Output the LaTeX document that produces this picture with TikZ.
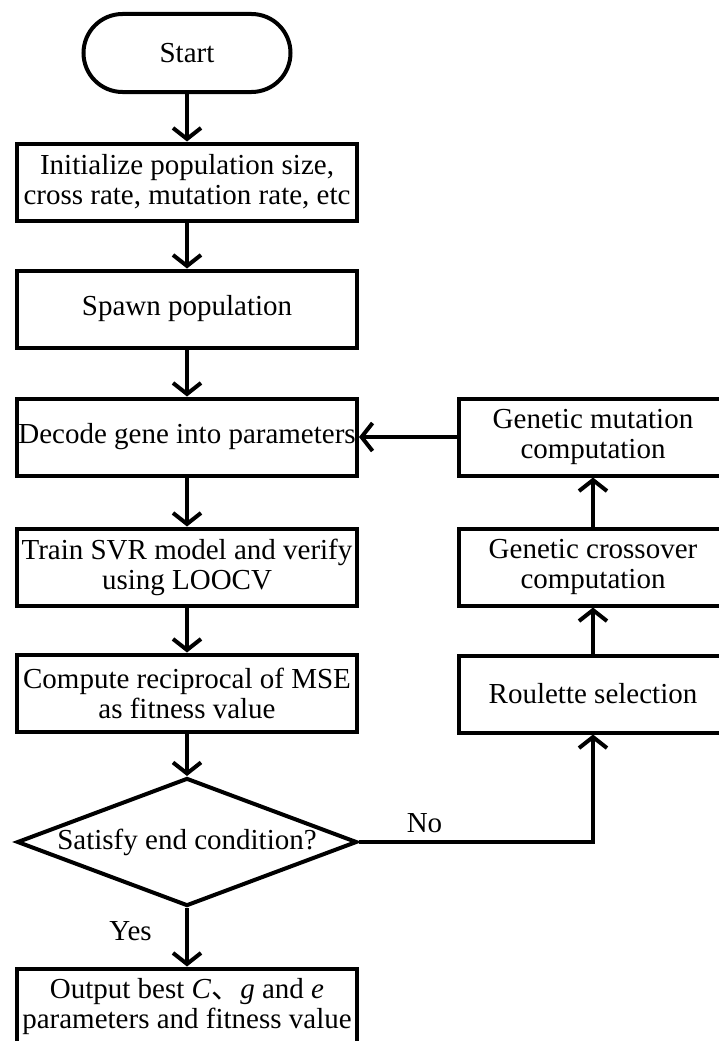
\documentclass[tikz,border=0pt]{standalone}
\usepackage{fontspec}
\setmainfont{Liberation Serif}
\newfontfamily\cjk{Noto Sans CJK SC}
\usepackage{tikz}
\usetikzlibrary{arrows.meta, shapes.geometric}

\begin{document}
\begin{tikzpicture}[
            x=1pt, y=-1pt,
            startstop/.style={rectangle, rounded corners=39pt, draw=black, line width=4pt, minimum width=207pt, minimum height=78pt, inner sep=1pt, align=center, font=\fontsize{29}{30}\selectfont},
            process/.style={rectangle, draw=black, line width=4pt, minimum width=340pt, minimum height=77pt, inner sep=1pt, align=center, font=\fontsize{29}{30}\selectfont},
            gastep/.style={process, minimum width=268pt},
            decision/.style={diamond, draw=black, line width=4pt, aspect=2.6, minimum width=340pt, minimum height=128pt, inner sep=0pt, align=center, font=\fontsize{29}{30}\selectfont},
            label/.style={font=\fontsize{29}{30}\selectfont},
            arrow/.style={line width=4pt, -{Straight Barb[length=11pt, width=28pt]}, draw=black}
        ]
            \useasboundingbox (0,0) rectangle (719,1041);
            \clip (0,0) rectangle (719,1041);

            % Nodes
            \node (start) [startstop] at (187,53) {Start};
            \node (init) [process] at (187,182) {Initialize population size,\\cross rate, mutation rate, etc};
            \node (spawn) [process] at (187,309) {Spawn population};
            \node (decode) [process] at (187,437) {Decode gene into parameters};
            \node (train) [process] at (187,567) {Train SVR model and verify\\using LOOCV};
            \node (fitness) [process] at (187,693) {Compute reciprocal of MSE\\as fitness value};
            \node (cond) [decision] at (187,842) {Satisfy end condition?};
            \node (output) [process] at (187,1007) {Output best \textit{C}{\cjk 、}\textit{g} and \textit{e}\\parameters and fitness value};

            % GA operators
            \node (mutate) [gastep] at (593,437) {Genetic mutation\\computation};
            \node (cross) [gastep] at (593,567) {Genetic crossover\\computation};
            \node (roulette) [gastep] at (593,694) {Roulette selection};

            % Connections
            \draw [arrow] (start) -- (init);
            \draw [arrow] (init) -- (spawn);
            \draw [arrow] (spawn) -- (decode);
            \draw [arrow] (decode) -- (train);
            \draw [arrow] (train) -- (fitness);
            \draw [arrow] (fitness) -- (cond);

            % Decision routes
            \draw [arrow] (cond.south) -- node[label, anchor=east, xshift=-30pt, pos=0.4] {Yes} (output.north);
            \draw [arrow] (cond.east) -| node[label, anchor=south, pos=0.14, yshift=4pt] {No} (roulette.south);
            \draw [arrow] (roulette) -- (cross);
            \draw [arrow] (cross) -- (mutate);
            \draw [arrow] (mutate.west) -- (decode.east);
        \end{tikzpicture}
\end{document}
